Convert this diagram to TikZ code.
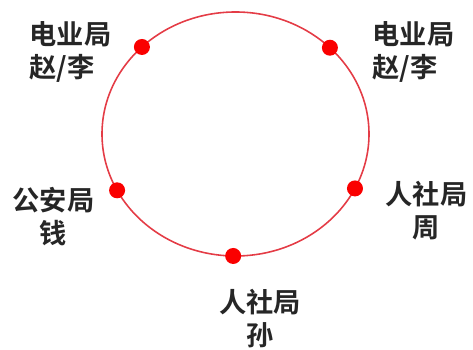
\documentclass[tikz,border=0pt]{standalone}
\usepackage{fontspec}
\usetikzlibrary{calc}
\newfontfamily\cjk{Noto Sans CJK SC}[BoldFont={Noto Sans CJK SC Bold}]
\definecolor{ringred}{RGB}{228,60,70}
\definecolor{dotred}{RGB}{250,0,0}
\tikzset{
  ring/.style={draw=ringred, line width=0.9pt},
  dot/.style={circle, fill=dotred, inner sep=0pt, minimum size=0.32cm},
  who/.style={font=\cjk\bfseries\fontsize{15.5}{18.8}\selectfont, text=black!85, inner sep=0pt}
}
\begin{document}
\begin{tikzpicture}[x=0.02cm, y=0.02cm]
    \useasboundingbox (0,0) rectangle (473,350);

    % Ring of departments
    \coordinate (c) at (235.5,216);
    \draw[ring] (c) ellipse (133.5 and 122);

    % Dots on the ring
    \node[dot] (dzl1) at ($(c)+(134.5:133.5 and 122)$) {};
    \node[dot] (dzl2) at ($(c)+(45:133.5 and 122)$) {};
    \node[dot] (dqian) at ($(c)+(207.5:133.5 and 122)$) {};
    \node[dot] (dzhou) at ($(c)+(333.5:133.5 and 122)$) {};
    \node[dot] (dsun) at ($(c)+(269:133.5 and 122)$) {};

    % Labels
    \node[who, align=left] (lzl1) at (70.5,298.5) {电业局\\赵/李};
    \node[who, align=left] (lzl2) at (413.5,298.5) {电业局\\赵/李};
    \node[who, align=center] (lqian) at (53.5,133.5) {公安局\\钱};
    \node[who, align=center] (lzhou) at (426.5,139) {人社局\\周};
    \node[who, align=center] (lsun) at (260,31) {人社局\\孙};
\end{tikzpicture}
\end{document}
